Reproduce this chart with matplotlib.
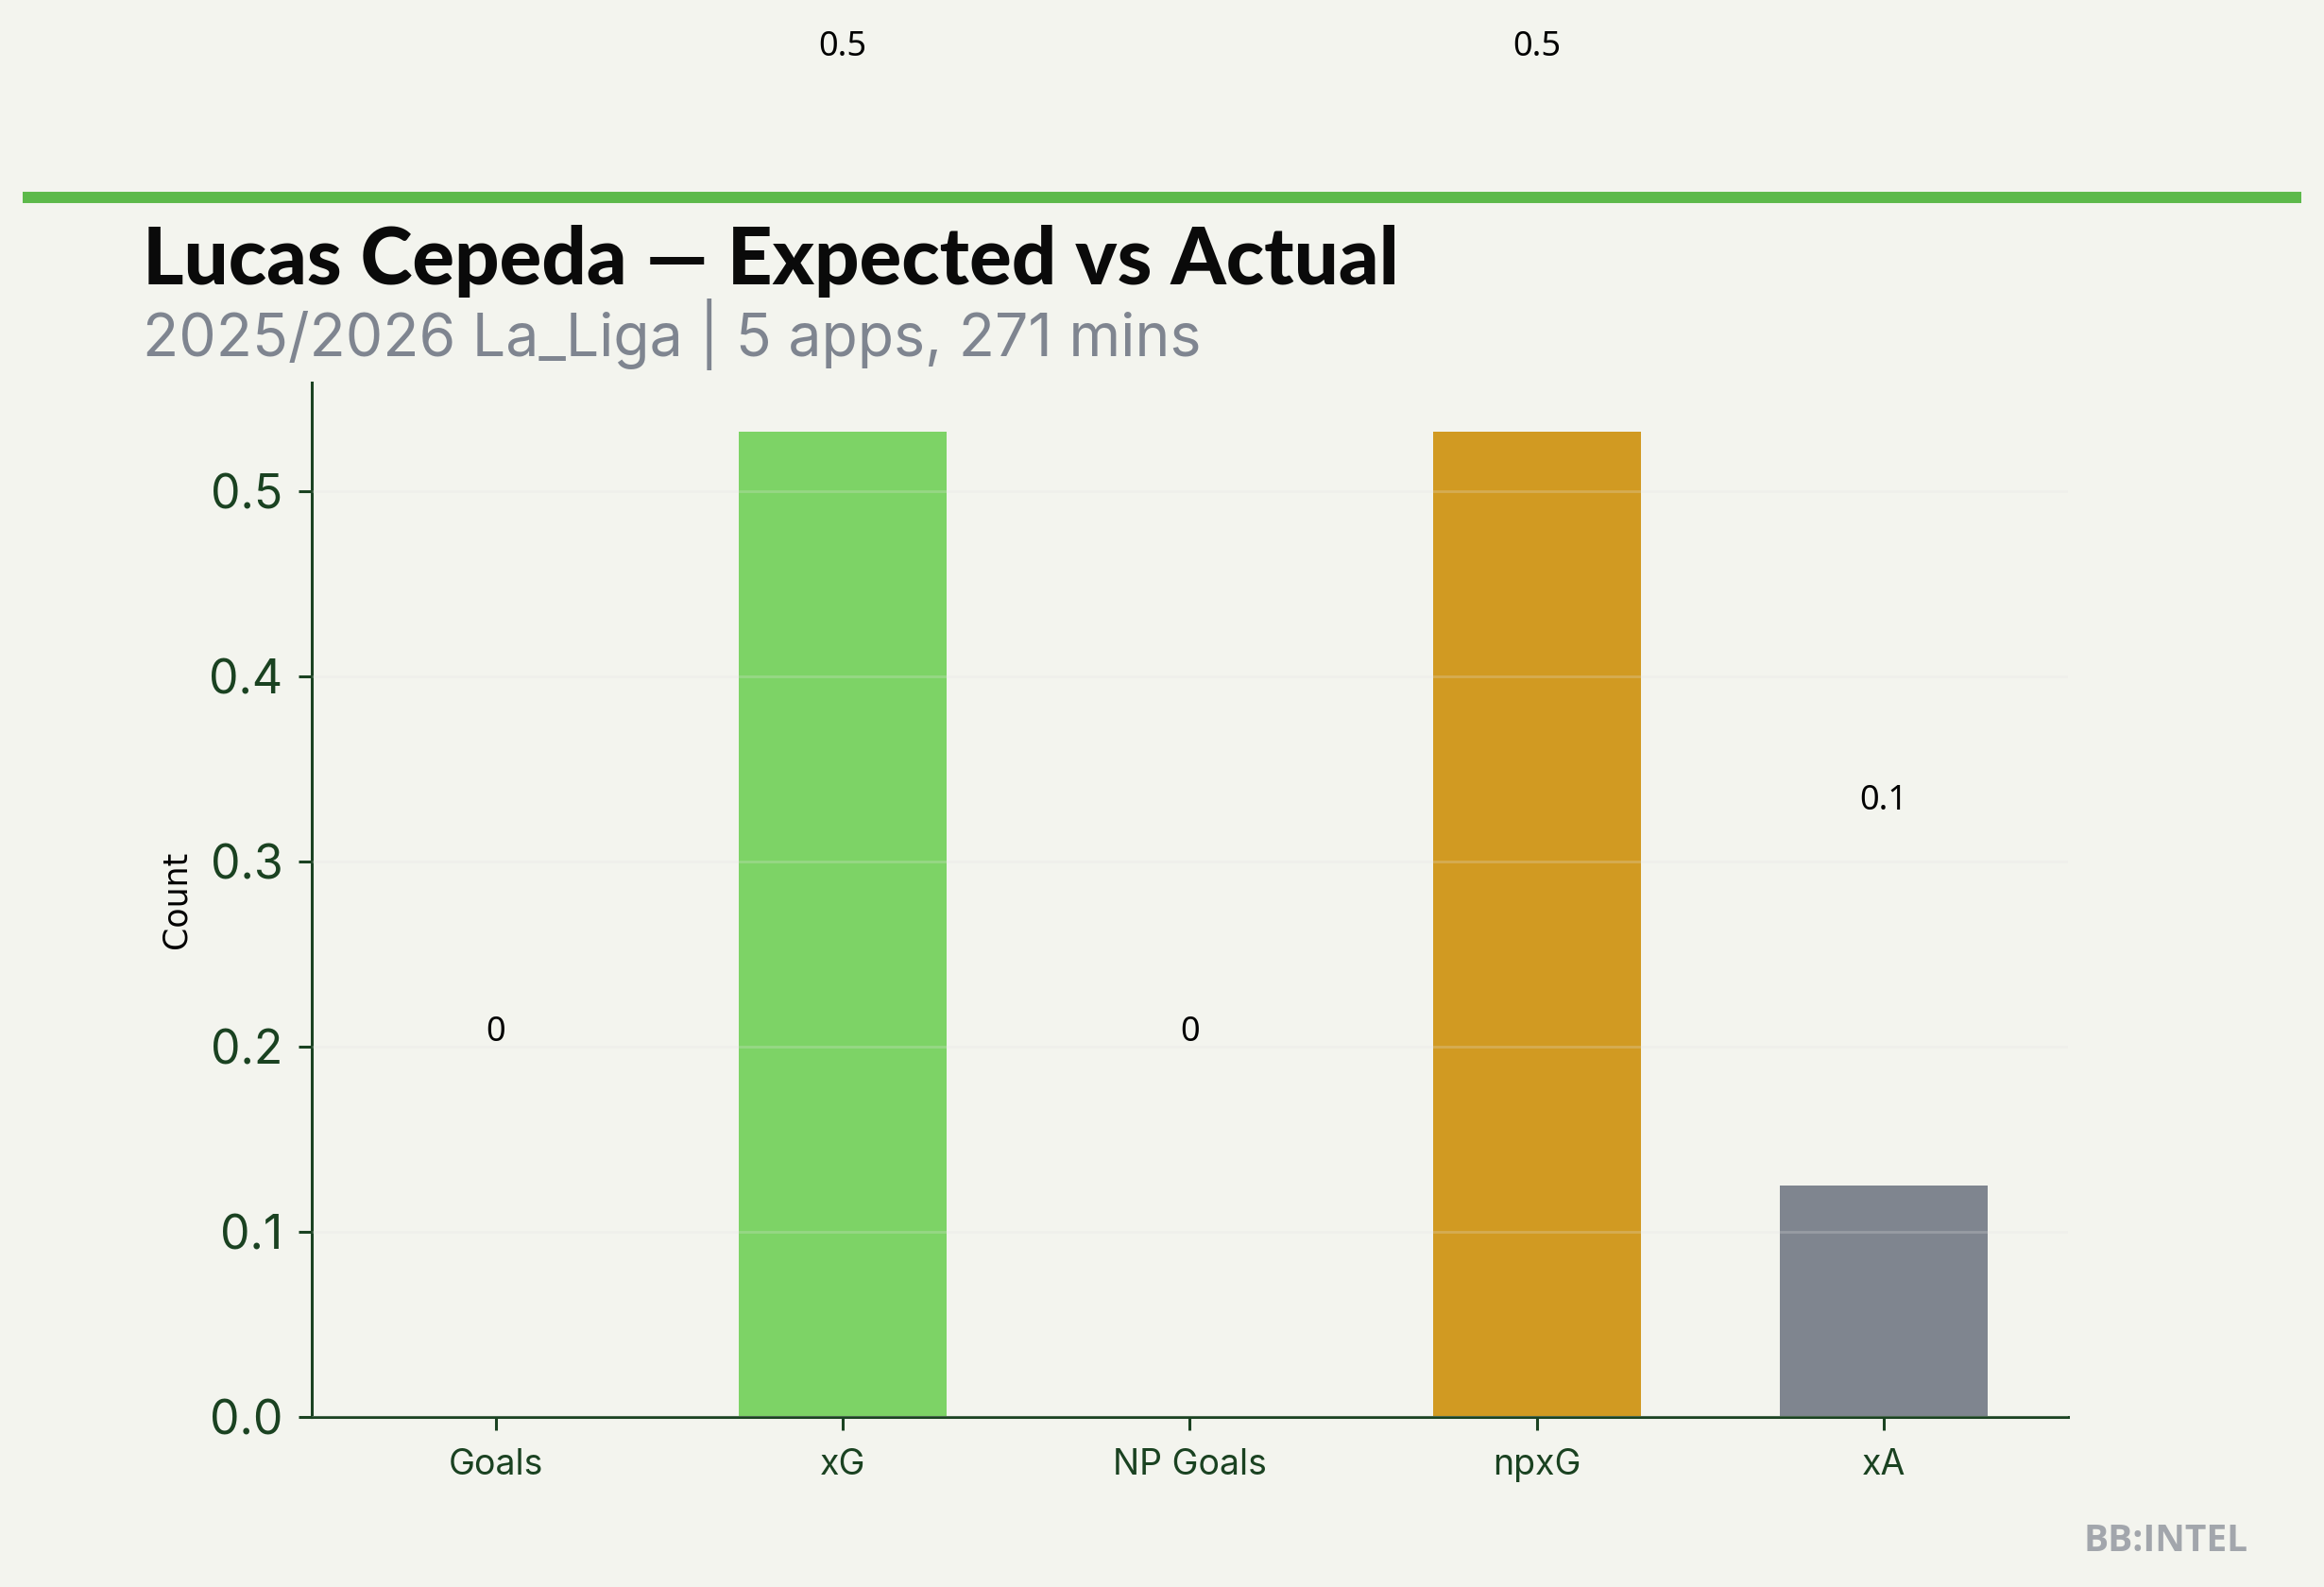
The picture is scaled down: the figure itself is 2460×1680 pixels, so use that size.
import matplotlib
matplotlib.use("Agg")
import matplotlib.pyplot as plt
from matplotlib.lines import Line2D

# ---- data ----
categories = ["Goals", "xG", "NP Goals", "npxG", "xA"]
values = [0, 0.532, 0, 0.532, 0.125]
value_labels = ["0", "0.5", "0", "0.5", "0.1"]
bar_colors = ["#2e7d32", "#7dd366", "#b5761a", "#d19a22", "#7f858f"]
yticks = [0.0, 0.1, 0.2, 0.3, 0.4, 0.5]

title = "Lucas Cepeda \u2014 Expected vs Actual"
subtitle = "2025/2026 La_Liga | 5 apps, 271 mins"
ylabel = "Count"
watermark = "BB:INTEL"

BG = "#f3f4ee"
DARK = "#1a4221"

fig = plt.figure(figsize=(12.3, 8.4), dpi=200, facecolor=BG)
ax = fig.add_axes([0.1341, 0.1071, 0.7557, 0.6518])
ax.set_facecolor(BG)

x = list(range(len(categories)))
ax.bar(x, values, width=0.6, color=bar_colors, zorder=2)
ax.set_xlim(-0.53, 4.53)
ax.set_ylim(0, max(values) * 1.05)
ax.set_axisbelow(False)
ax.yaxis.grid(True, color="#e4e4e4", alpha=0.25, linewidth=1.0, zorder=3)
ax.xaxis.grid(False)

ax.set_xticks(x)
ax.set_xticklabels(categories, fontfamily="Inter", fontsize=13.5, color=DARK)
ax.set_yticks(yticks)
ax.set_yticklabels([f"{t:.1f}" for t in yticks], fontfamily="Inter", fontsize=18, color=DARK)
ax.tick_params(axis="x", length=5, width=1.1, color=DARK, pad=6.7)
ax.tick_params(axis="y", length=5, width=1.1, color=DARK, pad=6)

for s in ["top", "right"]:
    ax.spines[s].set_visible(False)
for s in ["left", "bottom"]:
    ax.spines[s].set_color(DARK)
    ax.spines[s].set_linewidth(1.1)

ax.set_ylabel(ylabel, fontfamily="DejaVu Sans", fontsize=12.5, color="black")
ax.yaxis.set_label_coords(-0.068, 0.5)

offset = 0.39 * max(values)
for xi, v, lab in zip(x, values, value_labels):
    ax.text(xi, v + offset, lab, ha="center", va="center", fontfamily="Noto Sans",
            fontsize=13, color="black", clip_on=False)

# header
fig.add_artist(Line2D([0.0096, 0.9902], [0.8756, 0.8756], color="#5cb94a",
                      linewidth=4.3, solid_capstyle="butt", transform=fig.transFigure))
fig.text(0.0614, 0.8208, title, fontfamily="Lato", fontweight="black", fontsize=30,
         color="#0a0a0a", ha="left", va="baseline")
fig.text(0.0614, 0.7756, subtitle, fontfamily="Inter", fontsize=22.5,
         color="#7f8590", ha="left", va="baseline")
fig.text(0.9675, 0.0226, watermark, fontfamily="Open Sans", fontweight="bold",
         fontsize=14, color="#a2a6ac", ha="right", va="baseline")

fig.savefig("out.png", dpi=200, facecolor=BG)
